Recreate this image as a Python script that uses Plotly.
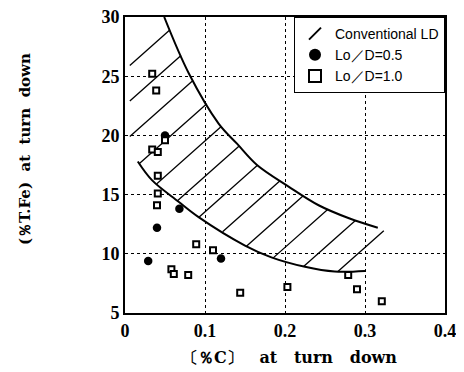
import plotly.graph_objects as go

# Data
lod05_x = [0.050, 0.068, 0.040, 0.120, 0.029]
lod05_y = [20.0, 13.8, 12.2, 9.6, 9.4]

lod10_x = [0.034, 0.039, 0.050, 0.034, 0.041, 0.041, 0.041, 0.040, 0.089, 0.110,
           0.058, 0.061, 0.079, 0.144, 0.203, 0.279, 0.290, 0.321]
lod10_y = [25.2, 23.8, 19.6, 18.8, 18.6, 16.6, 15.1, 14.1, 10.8, 10.3,
           8.7, 8.3, 8.2, 6.7, 7.2, 8.2, 7.0, 6.0]

upper_x = [0.049, 0.080, 0.117, 0.140, 0.165, 0.204, 0.242, 0.280, 0.316]
upper_y = [30.0, 25.2, 21.0, 19.3, 17.5, 15.7, 14.1, 13.0, 12.2]

lower_x = [0.016, 0.034, 0.067, 0.092, 0.150, 0.183, 0.225, 0.262, 0.300]
lower_y = [17.8, 16.2, 14.4, 13.1, 10.7, 9.7, 8.9, 8.5, 8.55]

# hatched region outline (conventional LD)
region_x = [0.006, 0.052, 0.080, 0.117, 0.140, 0.165, 0.204, 0.242, 0.280, 0.316,
            0.352, 0.318, 0.300, 0.262, 0.225, 0.183, 0.150, 0.092, 0.067, 0.034, 0.016, 0.006]
region_y = [26.4, 29.5, 25.2, 21.0, 19.3, 17.5, 15.7, 14.1, 13.0, 12.2,
            11.0, 8.7, 8.55, 8.5, 8.9, 9.7, 10.7, 13.1, 14.4, 16.2, 17.8, 18.3]

x_ticks = [0, 0.1, 0.2, 0.3, 0.4]
x_labels = ["0", "0.1", "0.2", "0.3", "0.4"]
y_ticks = [5, 10, 15, 20, 25, 30]

# hatch style (slope in data units, spacing of intercepts)
HATCH_SLOPE = 60.0
HATCH_STEP = 3.0
HATCH_PHASE = 1.54


def hatch_segments(px, py, slope, step, phase):
    """Clip the line family y = slope*x + c to the polygon (px, py)."""
    n = len(px)
    g = [y - slope * x for x, y in zip(px, py)]
    gmin, gmax = min(g), max(g)
    k0 = int((gmin - phase) // step) - 1
    k1 = int((gmax - phase) // step) + 2
    hx, hy = [], []
    for k in range(k0, k1):
        c = phase + k * step
        pts = []
        for i in range(n):
            j = (i + 1) % n
            a, b = g[i] - c, g[j] - c
            if (a < 0) != (b < 0):
                t = a / (a - b)
                pts.append(px[i] + t * (px[j] - px[i]))
        pts.sort()
        for m in range(0, len(pts) - 1, 2):
            for xv in (pts[m], pts[m + 1]):
                hx.append(xv)
                hy.append(slope * xv + c)
            hx.append(None)
            hy.append(None)
    return hx, hy


hx, hy = hatch_segments(region_x, region_y, HATCH_SLOPE, HATCH_STEP, HATCH_PHASE)

fig = go.Figure()

fig.add_trace(go.Scatter(x=hx, y=hy, mode="lines",
                         line=dict(color="black", width=1.3),
                         showlegend=False, hoverinfo="skip"))

fig.add_trace(go.Scatter(x=upper_x, y=upper_y, mode="lines",
                         line=dict(color="black", width=2, shape="spline"),
                         showlegend=False, hoverinfo="skip"))
fig.add_trace(go.Scatter(x=lower_x, y=lower_y, mode="lines",
                         line=dict(color="black", width=2, shape="spline"),
                         showlegend=False, hoverinfo="skip"))

# legend entry for the hatched region
fig.add_trace(go.Scatter(x=[None], y=[None], mode="markers", name="Conventional LD",
                         marker=dict(symbol="line-ne", size=10, color="black",
                                     line=dict(color="black", width=3))))

fig.add_trace(go.Scatter(x=lod05_x, y=lod05_y, mode="markers", name="Lo／D=0.5",
                         marker=dict(symbol="circle", size=8.5, color="black")))
fig.add_trace(go.Scatter(x=lod10_x, y=lod10_y, mode="markers", name="Lo／D=1.0",
                         marker=dict(symbol="square", size=6, color="white",
                                     line=dict(color="black", width=2))))

axis_font = dict(family="Liberation Serif", size=18, color="black", weight="bold")

fig.update_xaxes(range=[0, 0.4], tickvals=x_ticks, ticktext=x_labels,
                 showline=True, linecolor="black", linewidth=2, mirror=True,
                 showgrid=True, gridcolor="black", gridwidth=1, griddash="3px,3px",
                 zeroline=False, ticks="", ticklen=0, tickfont=axis_font,
                 automargin=False, ticklabeloverflow="allow")
fig.update_yaxes(range=[5, 30], tickvals=y_ticks,
                 showline=True, linecolor="black", linewidth=2, mirror=True,
                 showgrid=True, gridcolor="black", gridwidth=1, griddash="3px,3px",
                 zeroline=False, ticks="", ticklen=0, tickfont=axis_font,
                 automargin=False, ticklabeloverflow="allow")

ygap = "\u00a0\u00a0"
xgap = "\u00a0\u00a0\u00a0"
fig.add_annotation(xref="paper", yref="paper", x=-0.3125, y=0.554, showarrow=False,
                   xanchor="center", yanchor="middle",
                   text="(％T.Fe)" + ygap + "at" + ygap + "turn" + ygap + "down", textangle=-90,
                   font=dict(family="DejaVu Serif", size=15, color="black", weight="bold"))
fig.add_annotation(xref="paper", yref="paper", x=0.515, y=-0.149, showarrow=False,
                   xanchor="center", yanchor="middle",
                   text="〔％C〕" + xgap + "at" + xgap + "turn" + xgap + "down",
                   font=dict(family="DejaVu Serif", size=16, color="black", weight="bold"))

fig.update_layout(
    width=456, height=364,
    margin=dict(l=117, r=19, t=9, b=59, autoexpand=False),
    paper_bgcolor="white", plot_bgcolor="white",
    showlegend=True,
    legend=dict(x=1, xanchor="right", y=1, yanchor="top",
                bgcolor="white", bordercolor="black", borderwidth=1,
                font=dict(family="Liberation Sans", size=14, color="black"),
                tracegroupgap=0, itemsizing="constant"),
)

fig.write_html("out.html")
